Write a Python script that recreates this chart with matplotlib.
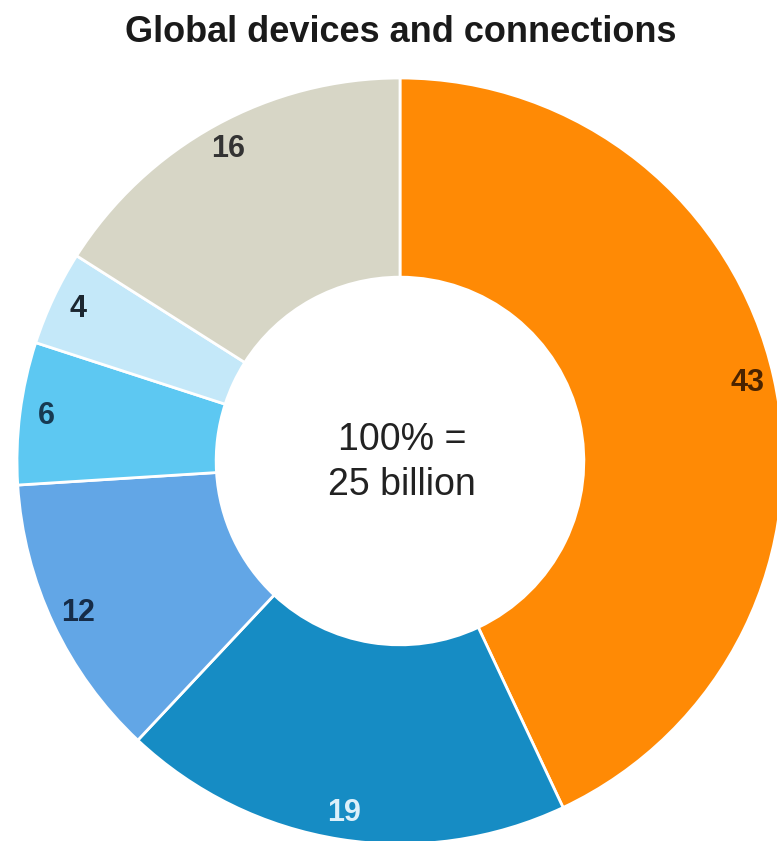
import matplotlib
matplotlib.use("Agg")
import matplotlib.pyplot as plt

# share of global devices and connections, %
segments = ["Orange", "Blue", "Mid blue", "Sky", "Pale sky", "Stone"]
shares = [43, 19, 12, 6, 4, 16]
colors = ["#FF8A05", "#168CC4", "#62A6E6", "#5DC8F2", "#C4E8F9", "#D7D6C6"]
label_colors = ["#4A2300", "#DDF0FA", "#162C48", "#173A52", "#1B2630", "#333333"]
title = "Global devices and connections"
center_lines = ["100% =", "25 billion"]

W, H = 777, 841
cx, cy, R = 400, 461, 383  # pixel centre and outer radius
FONT = ["Liberation Sans", "DejaVu Sans"]

fig = plt.figure(figsize=(W / 100, H / 100), dpi=100)
ax = fig.add_axes([0, 0, 1, 1])

wedges, texts = ax.pie(
    shares,
    labels=[str(v) for v in shares],
    colors=colors,
    startangle=90,
    counterclock=False,
    radius=1.0,
    labeldistance=0.93,
    wedgeprops=dict(width=0.52, edgecolor="white", linewidth=2.0),
)
for t, c in zip(texts, label_colors):
    t.set_ha("center")
    t.set_va("center")
    t.set_color(c)
    t.set_fontsize(22)
    t.set_fontweight("bold")
    t.set_family(FONT)

# centre caption, two lines placed by baseline (pixels from top)
for line, base in zip(center_lines, [450, 495]):
    ax.text(402 / W, 1 - base / H, line, transform=fig.transFigure,
            ha="center", va="baseline", fontsize=27, color="#222222", family=FONT)

ax.set_xlim(-cx / R, (W - cx) / R)
ax.set_ylim(-(H - cy) / R, cy / R)
ax.set_aspect("auto")
ax.axis("off")

fig.text(401 / W, 1 - 42 / H, title, ha="center", va="baseline", fontsize=26,
         fontweight="bold", color="#1a1a1a", family=FONT)

fig.savefig("out.png", dpi=100, facecolor="white")
